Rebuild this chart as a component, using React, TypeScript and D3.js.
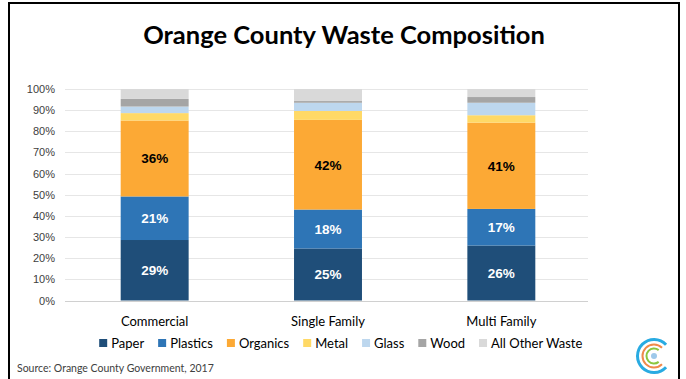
import { useMemo } from "react";
import * as d3 from "d3";

const categories = ["Commercial", "Single Family", "Multi Family"];
const materials = ["Paper", "Plastics", "Organics", "Metal", "Glass", "Wood", "All Other Waste"];
const colors = ["#1f4e79", "#2e75b6", "#fca935", "#ffd966", "#bdd7ee", "#a5a5a5", "#d9d9d9"];

// percent shares per category, in material order
const commercial = [28.6, 20.6, 35.9, 3.5, 3.1, 3.6, 4.7];
const singleFamily = [24.6, 18.4, 42.4, 4.2, 3.9, 0.8, 5.7];
const multiFamily = [26.0, 17.3, 40.8, 3.5, 5.9, 2.7, 3.8];

const yTicks = [0, 10, 20, 30, 40, 50, 60, 70, 80, 90, 100];
const labelled = ["Paper", "Plastics", "Organics"];

const W = 686;
const H = 379;
const font = "Lato, 'Open Sans', sans-serif";

function measure(text: string, f: string) {
  const ctx = document.createElement("canvas").getContext("2d")!;
  ctx.font = f;
  return ctx.measureText(text).width;
}

export default function App() {
  const rows = [commercial, singleFamily, multiFamily];
  const data = categories.map((c, i) => {
    const o: Record<string, any> = { category: c };
    materials.forEach((m, j) => (o[m] = rows[i][j]));
    return o;
  });

  const x = d3
    .scaleBand()
    .domain(categories)
    .range([68, 588])
    .paddingInner(0.608)
    .paddingOuter(0.304);
  const y = d3.scaleLinear().domain([0, 100]).range([300.5, 89]);

  const series = d3.stack().keys(materials)(data as any);
  const color = d3.scaleOrdinal<string, string>().domain(materials).range(colors);

  // legend layout
  const legend = useMemo(() => {
    const f = `13px ${font}`;
    const sq = 8;
    const gap = 4;
    const space = 14;
    const widths = materials.map((m) => sq + gap + measure(m, f));
    const total = d3.sum(widths) + space * (materials.length - 1);
    let cx = 341 - total / 2;
    return materials.map((m, i) => {
      const pos = cx;
      cx += widths[i] + space;
      return { m, x: pos };
    });
  }, []);

  const arc = (r0: number, r1: number, a: number) =>
    d3.arc()({ innerRadius: r0, outerRadius: r1, startAngle: a, endAngle: Math.PI * 2 - a } as any) || "";

  return (
    <div style={{ position: "fixed", left: 0, top: 0 }}>
      <svg width={W} height={H} style={{ display: "block", background: "#fff" }}>
        <rect x={9} y={3} width={670} height={420} fill="#fff" stroke="#000" strokeWidth={2} />
        <text
          x={344}
          y={44}
          textAnchor="middle"
          fontFamily={font}
          fontWeight={700}
          fontSize={25.5}
          fill="#000"
        >
          Orange County Waste Composition
        </text>

        {yTicks.map((t) => (
          <g key={t}>
            <line
              x1={65}
              x2={588}
              y1={Math.round(y(t)) + 0.5}
              y2={Math.round(y(t)) + 0.5}
              stroke={t === 0 ? "#d0d0d0" : "#e6e6e6"}
              strokeWidth={1.2}
            />
            <text
              x={55}
              y={y(t) + 4}
              textAnchor="end"
              fontFamily="'Liberation Sans', Arial, sans-serif"
              fontSize={11}
              fill="#404040"
            >
              {t}%
            </text>
          </g>
        ))}

        {series.map((s) => (
          <g key={s.key} fill={color(s.key)}>
            {s.map((d, i) => (
              <rect
                key={i}
                x={x(categories[i])}
                width={x.bandwidth()}
                y={y(d[1])}
                height={y(d[0]) - y(d[1])}
              />
            ))}
          </g>
        ))}

        {series
          .filter((s) => labelled.includes(s.key))
          .map((s) =>
            s.map((d, i) => (
              <text
                key={s.key + i}
                x={x(categories[i])! + x.bandwidth() / 2}
                y={y((d[0] + d[1]) / 2) + 5}
                textAnchor="middle"
                fontFamily="'Liberation Sans', Arial, sans-serif"
                fontWeight={700}
                fontSize={13.5}
                fill={s.key === "Organics" ? "#000" : "#fff"}
              >
                {Math.round(d[1] - d[0])}%
              </text>
            ))
          )}

        {categories.map((c) => (
          <text
            key={c}
            x={x(c)! + x.bandwidth() / 2}
            y={326}
            textAnchor="middle"
            fontFamily={font}
            fontSize={13}
            fill="#000"
          >
            {c}
          </text>
        ))}

        {legend.map((l, i) => (
          <g key={l.m}>
            <rect x={l.x} y={339} width={8} height={8} fill={colors[i]} />
            <text x={l.x + 12} y={347.5} fontFamily={font} fontSize={13} fill="#000">
              {l.m}
            </text>
          </g>
        ))}

        <text x={17} y={372} fontFamily={font} fontSize={10.5} fill="#404040">
          Source: Orange County Government, 2017
        </text>

        {/* logo */}
        <g transform="translate(654,356) rotate(90)">
          <path d={arc(15, 18, 0.75)} fill="#29abe2" />
          <path d={arc(10.5, 12.5, 0.8)} fill="#f08a4b" />
          <path d={arc(6.5, 8.5, 0.9)} fill="#8cc63f" />
          <circle r={3} fill="#9ec9ea" />
        </g>
      </svg>
    </div>
  );
}
